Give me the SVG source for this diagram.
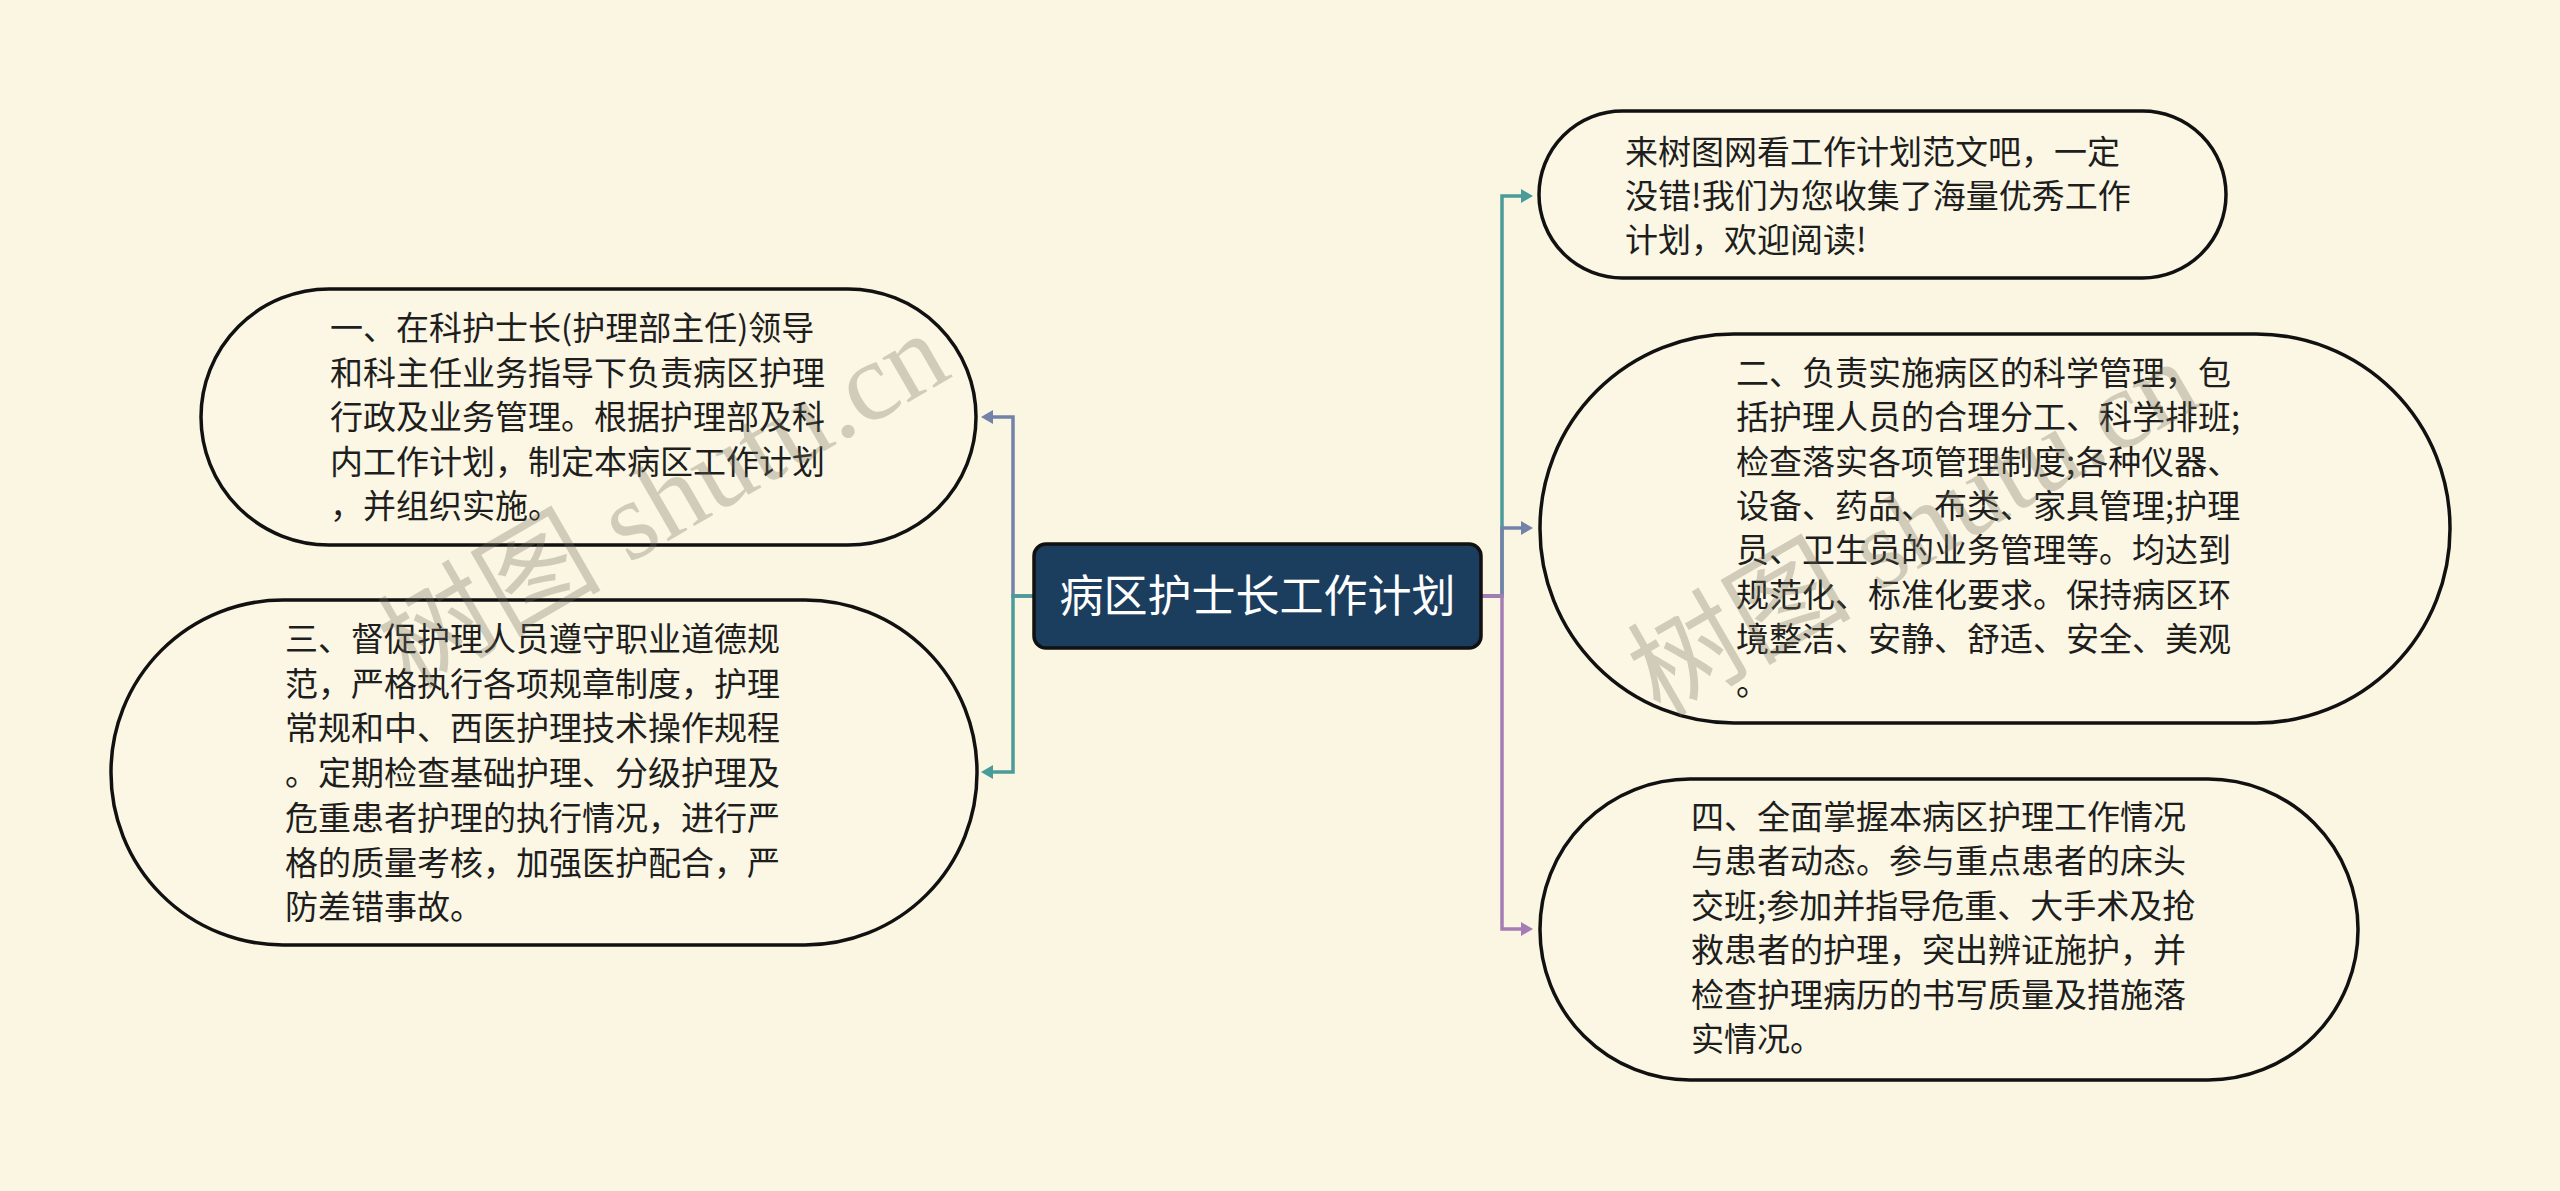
<svg xmlns="http://www.w3.org/2000/svg" width="2560" height="1191" viewBox="0 0 2560 1191">
<style>
.bg{fill:#faf6e2}
.node{fill:#fbf7e4;stroke:#111;stroke-width:3.5}
.root{fill:#1b3e5e;stroke:#111;stroke-width:3.5}
.t{font-family:"Noto Sans CJK SC","Noto Sans",sans-serif;font-size:33px;fill:#1e1e1e}
.rt{font-family:"Noto Sans CJK SC","Noto Sans",sans-serif;font-size:44px;fill:#fff}
.edge{fill:none;stroke-width:3.5}
.wm{font-family:"Liberation Serif","Noto Sans CJK SC",serif;font-size:112px;fill:#6e6c5a;opacity:0.3}
</style>
<defs>
<marker id="aBlue" markerUnits="userSpaceOnUse" markerWidth="14" markerHeight="16" refX="0" refY="7" orient="auto"><path d="M0,0 L12,7 L0,14 z" fill="#7282a8"/></marker>
<marker id="aTeal" markerUnits="userSpaceOnUse" markerWidth="14" markerHeight="16" refX="0" refY="7" orient="auto"><path d="M0,0 L12,7 L0,14 z" fill="#4b9b9a"/></marker>
<marker id="aPurple" markerUnits="userSpaceOnUse" markerWidth="14" markerHeight="16" refX="0" refY="7" orient="auto"><path d="M0,0 L12,7 L0,14 z" fill="#a57db5"/></marker>
</defs>
<rect class="bg" x="0" y="0" width="2560" height="1191"/>

<g id="connectors">
<path class="edge" stroke="#7282a8" d="M1034,596 H1013 V417 H993" marker-end="url(#aBlue)"/>
<path class="edge" stroke="#4b9b9a" d="M1034,596 H1013 V772 H993" marker-end="url(#aTeal)"/>
<path class="edge" stroke="#4b9b9a" d="M1481,596 H1502 V196 H1521" marker-end="url(#aTeal)"/>
<path class="edge" stroke="#7282a8" d="M1481,596 H1502 V528 H1521" marker-end="url(#aBlue)"/>
<path class="edge" stroke="#a57db5" d="M1481,596 H1502 V929 H1521" marker-end="url(#aPurple)"/>
</g>

<g id="root">
<rect class="root" x="1034" y="544" width="447" height="104" rx="12"/>
<text class="rt" x="1257.5" y="612" text-anchor="middle">病区护士长工作计划</text>
</g>

<g id="node1">
<rect class="node" x="201" y="289" width="775" height="256" rx="128"/>
<text class="t" x="330"><tspan x="330" y="340">一、在科护士长(护理部主任)领导</tspan><tspan x="330" y="384.5">和科主任业务指导下负责病区护理</tspan><tspan x="330" y="429">行政及业务管理。根据护理部及科</tspan><tspan x="330" y="473.5">内工作计划，制定本病区工作计划</tspan><tspan x="330" y="518">，并组织实施。</tspan></text>
</g>

<g id="node3">
<rect class="node" x="111" y="600" width="866" height="345" rx="172"/>
<text class="t"><tspan x="285" y="651">三、督促护理人员遵守职业道德规</tspan><tspan x="285" y="695.7">范，严格执行各项规章制度，护理</tspan><tspan x="285" y="740.4">常规和中、西医护理技术操作规程</tspan><tspan x="285" y="785.1">。定期检查基础护理、分级护理及</tspan><tspan x="285" y="829.8">危重患者护理的执行情况，进行严</tspan><tspan x="285" y="874.5">格的质量考核，加强医护配合，严</tspan><tspan x="285" y="919.2">防差错事故。</tspan></text>
</g>

<g id="node0">
<rect class="node" x="1539" y="111" width="687" height="167" rx="83.5"/>
<text class="t"><tspan x="1625" y="164">来树图网看工作计划范文吧，一定</tspan><tspan x="1625" y="208">没错!我们为您收集了海量优秀工作</tspan><tspan x="1625" y="252">计划，欢迎阅读!</tspan></text>
</g>

<g id="node2">
<rect class="node" x="1540" y="334" width="910" height="389" rx="194"/>
<text class="t"><tspan x="1736" y="385">二、负责实施病区的科学管理，包</tspan><tspan x="1736" y="429.3">括护理人员的合理分工、科学排班;</tspan><tspan x="1736" y="473.6">检查落实各项管理制度;各种仪器、</tspan><tspan x="1736" y="517.9">设备、药品、布类、家具管理;护理</tspan><tspan x="1736" y="562.2">员、卫生员的业务管理等。均达到</tspan><tspan x="1736" y="606.5">规范化、标准化要求。保持病区环</tspan><tspan x="1736" y="650.8">境整洁、安静、舒适、安全、美观</tspan><tspan x="1736" y="695.1">。</tspan></text>
</g>

<g id="node4">
<rect class="node" x="1540" y="779" width="818" height="301" rx="150"/>
<text class="t"><tspan x="1691" y="829">四、全面掌握本病区护理工作情况</tspan><tspan x="1691" y="873.4">与患者动态。参与重点患者的床头</tspan><tspan x="1691" y="917.8">交班;参加并指导危重、大手术及抢</tspan><tspan x="1691" y="962.2">救患者的护理，突出辨证施护，并</tspan><tspan x="1691" y="1006.6">检查护理病历的书写质量及措施落</tspan><tspan x="1691" y="1051">实情况。</tspan></text>
</g>

<g id="watermark">
<text class="wm" x="410" y="690" transform="rotate(-30 410 690)">树图 shutu.cn</text>
<text class="wm" x="1660" y="718" transform="rotate(-30 1660 718)">树图 shutu.cn</text>
</g>
</svg>
